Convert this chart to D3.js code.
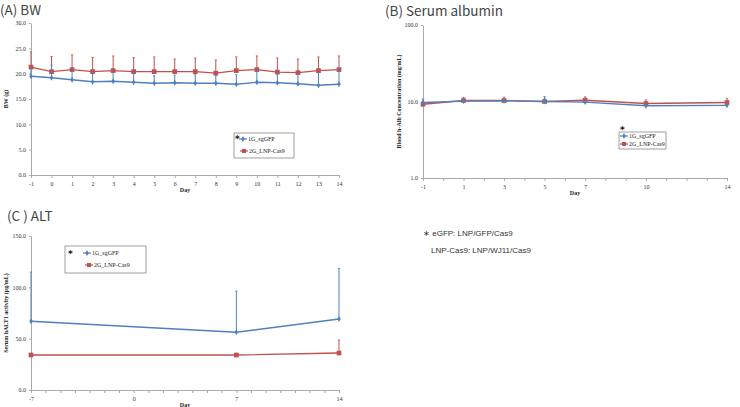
<!DOCTYPE html>
<html lang="en">
<head>
<meta charset="UTF-8">
<title>BW / Serum albumin / ALT</title>
<script src="https://d3js.org/d3.v7.min.js"></script>
<style>
    body { margin: 0; background: white; }
    svg { display: block; }
    .title { font-family: "Noto Sans CJK JP", "Noto Sans", sans-serif; font-size: 13.5px; fill: #444; }
    .axis text { font-family: "Liberation Serif", serif; font-size: 6px; fill: #333; }
    .axis path, .axis line { stroke: #aaa; stroke-width: 1px; }
    .axlabel { font-family: "Liberation Serif", serif; font-size: 6px; font-weight: bold; fill: #222; }
    .legend text { font-family: "Liberation Serif", serif; font-size: 6px; fill: #222; }
    .legend text.star { font-family: "DejaVu Sans", sans-serif; font-size: 9px; font-weight: bold; fill: #111; }
    .note { font-family: "Liberation Sans", Arial, sans-serif; font-size: 8px; fill: #333; }
</style>
</head>
<body>
<div id="container"></div>
<script>
    // (A) body weight
    const daysA = [-1, 0, 1, 2, 3, 4, 5, 6, 7, 8, 9, 10, 11, 12, 13, 14];
    const bwGFP = [19.5, 19.2, 18.8, 18.4, 18.5, 18.3, 18.1, 18.2, 18.1, 18.1, 17.9, 18.3, 18.2, 18.0, 17.7, 17.9];
    const bwGFPErr = [1.6, 2.5, 1.9, 1.8, 1.8, 1.9, 1.5, 1.5, 1.7, 1.6, 1.9, 2.5, 2.0, 2.0, 2.5, 3.2];
    const bwCas9 = [21.3, 20.4, 20.8, 20.4, 20.6, 20.4, 20.4, 20.4, 20.4, 20.1, 20.6, 20.8, 20.3, 20.2, 20.6, 20.8];
    const bwCas9Err = [3.0, 3.0, 2.9, 2.8, 2.9, 2.8, 2.9, 2.5, 2.7, 2.6, 2.7, 2.7, 2.8, 2.7, 2.7, 2.7];
    const ticksA = [0, 5, 10, 15, 20, 25, 30];

    // (B) serum albumin
    const daysB = [-1, 1, 3, 5, 7, 10, 14];
    const albGFP = [9.7, 10.1, 10.2, 10.0, 9.8, 8.8, 8.9];
    const albGFPErr = [1.1, 0.5, 0.5, 1.6, 0.6, 0.4, 0.4];
    const albCas9 = [9.2, 10.3, 10.3, 10.0, 10.4, 9.4, 9.7];
    const albCas9Err = [0.5, 1.0, 1.1, 0.8, 1.1, 1.1, 1.3];
    const ticksB = [1, 10, 100];
    const labelsB = [-1, 1, 3, 5, 7, 10, 14];

    // (C) ALT
    const daysC = [-7, 7, 14];
    const altGFP = [66.9, 56.2, 69.2];
    const altGFPErr = [48.0, 40.2, 49.3];
    const altCas9 = [34.1, 34.1, 36.0];
    const altCas9Err = [1.0, 1.6, 12.7];
    const ticksC = [0, 50, 100, 150];
    const labelsC = [-7, 0, 7, 14];

    const groups = ["1G_sgGFP", "2G_LNP-Cas9"];
    const blue = "#4f81bd", red = "#c0504d";

    const width = 740, height = 407;
    const svg = d3.select("#container").append("svg")
        .attr("width", width).attr("height", height);

    function panel(p) {
        const x = d3.scaleLinear().domain(p.xDomain).range([p.left, p.right]);
        const y = (p.log ? d3.scaleLog() : d3.scaleLinear()).domain(p.yDomain).range([p.bottom, p.top]);
        const g = svg.append("g");

        g.append("text").attr("class", "title")
            .attr("x", p.titleX).attr("y", p.titleY).text(p.title);

        // x axis
        const xa = g.append("g").attr("class", "axis")
            .attr("transform", `translate(0,${p.bottom})`)
            .call(d3.axisBottom(x).tickValues(d3.range(p.xDomain[0], p.xDomain[1] + 1))
                .tickSize(3).tickSizeOuter(0)
                .tickFormat(d => p.xLabels.includes(d) ? d : ""));
        xa.selectAll("text").attr("dy", "0.9em");

        // y axis
        g.append("g").attr("class", "axis")
            .attr("transform", `translate(${p.left},0)`)
            .call(d3.axisLeft(y).tickValues(p.yTicks).tickSize(2).tickSizeOuter(0)
                .tickFormat(d3.format(".1f")));

        g.append("text").attr("class", "axlabel")
            .attr("x", (p.left + p.right) / 2).attr("y", p.bottom + 17)
            .attr("text-anchor", "middle").text("Day");
        g.append("text").attr("class", "axlabel")
            .attr("transform", `translate(${p.ylabelX},${(p.top + p.bottom) / 2}) rotate(-90)`)
            .attr("text-anchor", "middle").text(p.ylabel);

        const series = [
            {color: red, vals: p.cas9, err: p.cas9Err, shape: d3.symbolSquare, size: 22},
            {color: blue, vals: p.gfp, err: p.gfpErr, shape: d3.symbolDiamond, size: 10}
        ];
        series.forEach(s => {
            const pts = p.days.map((d, i) => ({d: d, v: s.vals[i], e: s.err[i]}));
            const sg = g.append("g");
            // upward error bars
            sg.selectAll("line.err").data(pts).enter().append("line")
                .attr("x1", d => x(d.d)).attr("x2", d => x(d.d))
                .attr("y1", d => y(d.v)).attr("y2", d => y(d.v + d.e))
                .attr("stroke", s.color).attr("stroke-width", 1);
            sg.selectAll("line.cap").data(pts).enter().append("line")
                .attr("x1", d => x(d.d) - 1.2).attr("x2", d => x(d.d) + 1.2)
                .attr("y1", d => y(d.v + d.e)).attr("y2", d => y(d.v + d.e))
                .attr("stroke", s.color).attr("stroke-width", 0.8);
            sg.append("path").datum(pts)
                .attr("fill", "none").attr("stroke", s.color).attr("stroke-width", 1.4)
                .attr("d", d3.line().x(d => x(d.d)).y(d => y(d.v)));
            sg.selectAll("path.m").data(pts).enter().append("path")
                .attr("transform", d => `translate(${x(d.d)},${y(d.v)})`)
                .attr("d", d3.symbol().type(s.shape).size(s.size))
                .attr("fill", s.color);
        });

        // legend
        const L = p.legend;
        const lg = g.append("g").attr("class", "legend");
        lg.append("rect").attr("x", L.x).attr("y", L.y).attr("width", L.w).attr("height", L.h)
            .attr("fill", "white").attr("stroke", "#888").attr("stroke-width", 0.8);
        lg.append("text").attr("class", "star").attr("x", L.starX).attr("y", L.starY).text("*");
        [{c: blue, s: d3.symbolDiamond, z: 10}, {c: red, s: d3.symbolSquare, z: 16}].forEach((e, i) => {
            const yy = L.rows[i];
            lg.append("line").attr("x1", L.lineX[i]).attr("x2", L.lineX[i] + 8)
                .attr("y1", yy).attr("y2", yy).attr("stroke", e.c).attr("stroke-width", 1.2);
            lg.append("path").attr("transform", `translate(${L.lineX[i] + 4},${yy})`)
                .attr("d", d3.symbol().type(e.s).size(e.z)).attr("fill", e.c);
            lg.append("text").attr("x", L.lineX[i] + 9).attr("y", yy + 2).text(groups[i]);
        });
    }

    panel({
        title: "(A) BW", titleX: 0, titleY: 15,
        xDomain: [-1, 14], yDomain: [0, 30], left: 31, right: 339, top: 23, bottom: 175,
        xLabels: daysA, yTicks: ticksA, ylabel: "BW (g)", ylabelX: 8,
        days: daysA, gfp: bwGFP, gfpErr: bwGFPErr, cas9: bwCas9, cas9Err: bwCas9Err,
        legend: {x: 234, y: 133, w: 60, h: 25, starX: 235, starY: 142, rows: [139, 151], lineX: [239, 240]}
    });

    panel({
        title: "(B) Serum albumin", titleX: 385, titleY: 16,
        xDomain: [-1, 14], yDomain: [1, 100], log: true, left: 423, right: 727, top: 25, bottom: 178,
        xLabels: labelsB, yTicks: ticksB, ylabel: "Blood h-Alb Concentration (mg/mL)", ylabelX: 401,
        days: daysB, gfp: albGFP, gfpErr: albGFPErr, cas9: albCas9, cas9Err: albCas9Err,
        legend: {x: 619, y: 132, w: 47, h: 17, starX: 620, starY: 133, rows: [136, 144], lineX: [620, 620]}
    });

    panel({
        title: "(C ) ALT", titleX: 7, titleY: 221,
        xDomain: [-7, 14], yDomain: [0, 150], left: 31, right: 339, top: 236, bottom: 390,
        xLabels: labelsC, yTicks: ticksC, ylabel: "Serum hALT1 activity (pg/mL)", ylabelX: 8,
        days: daysC, gfp: altGFP, gfpErr: altGFPErr, cas9: altCas9, cas9Err: altCas9Err,
        legend: {x: 65, y: 246, w: 81, h: 27, starX: 68, starY: 257, rows: [253, 265], lineX: [83, 85]}
    });

    // footnote
    svg.append("text").attr("class", "note").attr("x", 423).attr("y", 236)
        .text("\u2217 eGFP: LNP/GFP/Cas9");
    svg.append("text").attr("class", "note").attr("x", 431).attr("y", 253)
        .text("LNP-Cas9: LNP/WJ11/Cas9");
</script>
</body>
</html>
